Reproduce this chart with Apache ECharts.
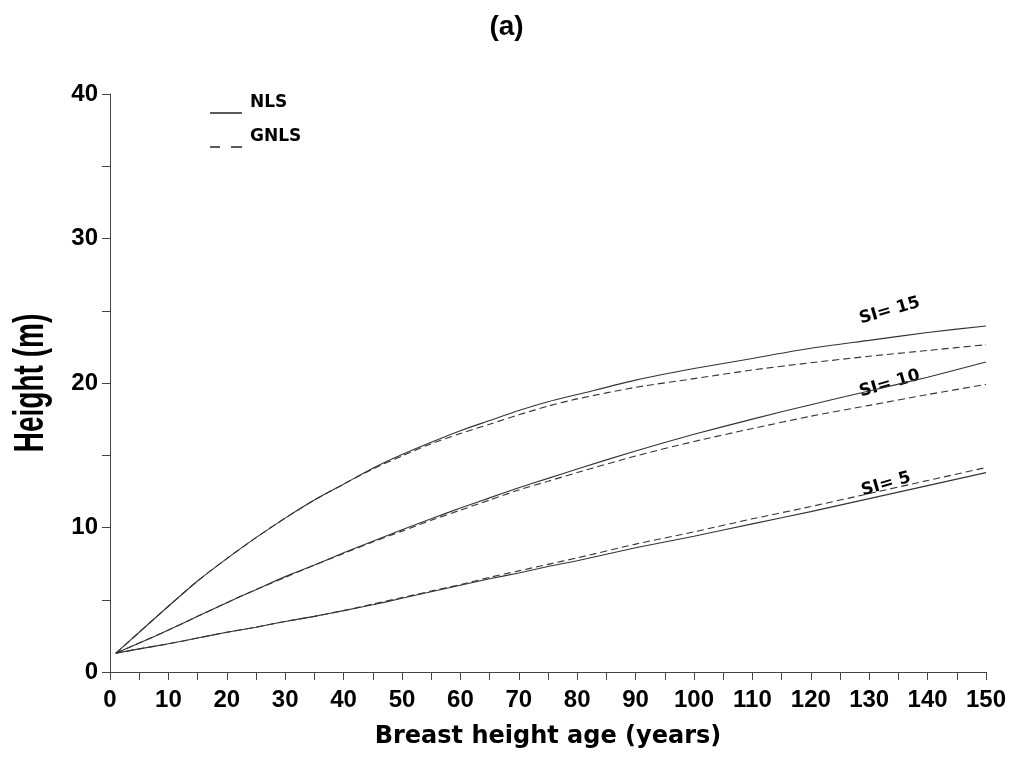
<!DOCTYPE html>
<html>
<head>
<meta charset="utf-8">
<script src="https://cdn.jsdelivr.net/npm/echarts@6/dist/echarts.min.js"></script>
<style>
html,body{margin:0;padding:0;background:#fff;}
#main{width:1013px;height:761px;}
</style>
</head>
<body>
<div id="main"></div>
<script>
// ---- data ----
const ages = [1,5,10,15,20,25,30,35,40,45,50,55,60,65,70,75,80,90,100,110,120,130,140,150];
const si15_nls  = [1.3,2.75,4.55,6.3,7.85,9.3,10.65,11.9,13.0,14.1,15.05,15.9,16.7,17.4,18.1,18.7,19.2,20.2,21.0,21.7,22.4,22.95,23.5,23.95];
const si15_gnls = [1.3,2.75,4.55,6.3,7.85,9.3,10.65,11.9,13.0,14.05,14.95,15.8,16.5,17.15,17.8,18.4,18.9,19.7,20.3,20.9,21.4,21.85,22.25,22.65];
const si10_nls  = [1.3,2.0,2.9,3.85,4.8,5.7,6.6,7.4,8.25,9.05,9.85,10.6,11.35,12.05,12.75,13.4,14.05,15.3,16.45,17.5,18.5,19.45,20.4,21.45];
const si10_gnls = [1.3,2.0,2.9,3.85,4.8,5.7,6.55,7.4,8.2,9.0,9.75,10.5,11.2,11.9,12.6,13.2,13.8,14.95,15.95,16.85,17.7,18.45,19.2,19.9];
const si5_nls   = [1.3,1.6,1.95,2.35,2.75,3.1,3.5,3.85,4.25,4.65,5.1,5.55,6.0,6.45,6.85,7.3,7.7,8.6,9.4,10.25,11.1,12.0,12.9,13.8];
const si5_gnls  = [1.3,1.6,1.95,2.35,2.75,3.1,3.5,3.85,4.25,4.7,5.15,5.6,6.05,6.55,7.0,7.45,7.9,8.85,9.7,10.6,11.45,12.35,13.25,14.15];
const curveLabels = ['SI= 15','SI= 10','SI= 5'];
const legendNames = ['NLS','GNLS'];
const titleText = '(a)';
const xTitle = 'Breast height age (years)';
const yTitle = 'Height (m)';

function pairs(vals){ return ages.map((a,i)=>[a, vals[i]]); }

const chart = echarts.init(document.getElementById('main'), null, {renderer:'canvas'});
const axisColor = '#444';
const lineColor = '#333';

function mk(name, vals, dashed){
  return {
    type:'line', name:name, data:pairs(vals), smooth:0.25,
    symbol:'none', silent:true,
    lineStyle:{color:lineColor, width:1.1, type: dashed ? [7,4] : 'solid'}
  };
}

const option = {
  animation:false,
  backgroundColor:'#fff',
  title:{text:titleText, left:'center', top:8,
    textStyle:{fontFamily:'Liberation Sans', fontWeight:'bold', fontSize:28, color:'#000'}},
  grid:{left:110, right:27, top:94, bottom:89, containLabel:false},
  xAxis:{
    type:'value', min:0, max:150, interval:10,
    axisLine:{show:true, lineStyle:{color:axisColor, width:1}},
    axisTick:{show:true, inside:false, length:8, lineStyle:{color:axisColor}},
    minorTick:{show:true, splitNumber:2, length:8, lineStyle:{color:axisColor}},
    splitLine:{show:false}, minorSplitLine:{show:false},
    axisLabel:{margin:16, color:'#000', fontFamily:'Liberation Sans', fontWeight:'bold', fontSize:24}
  },
  yAxis:{
    type:'value', min:0, max:40, interval:10,
    axisLine:{show:true, lineStyle:{color:axisColor, width:1}},
    axisTick:{show:true, inside:false, length:8, lineStyle:{color:axisColor}},
    minorTick:{show:true, splitNumber:2, length:8, lineStyle:{color:axisColor}},
    splitLine:{show:false}, minorSplitLine:{show:false},
    axisLabel:{margin:12, color:'#000', fontFamily:'Liberation Sans', fontWeight:'bold', fontSize:24}
  },
  series:[
    mk('SI15 NLS', si15_nls, false),
    mk('SI15 GNLS', si15_gnls, true),
    mk('SI10 NLS', si10_nls, false),
    mk('SI10 GNLS', si10_gnls, true),
    mk('SI5 NLS', si5_nls, false),
    mk('SI5 GNLS', si5_gnls, true)
  ]
};
chart.setOption(option);

// label anchors in data coordinates
const anchors = [[133.5,25.0],[133.5,19.95],[132.9,13.0]];
const graphics = [];
anchors.forEach((d,i)=>{
  const p = chart.convertToPixel({gridIndex:0}, d);
  graphics.push({type:'text', x:p[0], y:p[1], rotation:0.28, silent:true,
    style:{text:curveLabels[i], fill:'#000', font:'bold 17px "DejaVu Sans"', textAlign:'center', textVerticalAlign:'middle'}});
});
// legend
graphics.push({type:'line', silent:true, shape:{x1:210,y1:113,x2:242,y2:113}, style:{stroke:'#000', lineWidth:1.3}});
graphics.push({type:'line', silent:true, shape:{x1:210,y1:147,x2:220,y2:147}, style:{stroke:'#000', lineWidth:1.3}});
graphics.push({type:'line', silent:true, shape:{x1:231,y1:147,x2:242,y2:147}, style:{stroke:'#000', lineWidth:1.3}});
graphics.push({type:'text', x:250, y:103, silent:true, style:{text:legendNames[0], fill:'#000', font:'bold 17px "DejaVu Sans"', textAlign:'left', textVerticalAlign:'middle'}});
graphics.push({type:'text', x:250, y:137, silent:true, style:{text:legendNames[1], fill:'#000', font:'bold 17px "DejaVu Sans"', textAlign:'left', textVerticalAlign:'middle'}});
// axis titles
graphics.push({type:'text', x:548, y:737, silent:true, style:{text:xTitle, fill:'#000', font:'bold 24px "DejaVu Sans"', textAlign:'center', textVerticalAlign:'middle'}});
graphics.push({type:'text', x:31, y:383, rotation:Math.PI/2, scaleY:1.5, silent:true, style:{text:yTitle, fill:'#000', font:'bold 28px "Liberation Sans"', textAlign:'center', textVerticalAlign:'middle'}});
chart.setOption({graphic:graphics});
</script>
</body>
</html>
